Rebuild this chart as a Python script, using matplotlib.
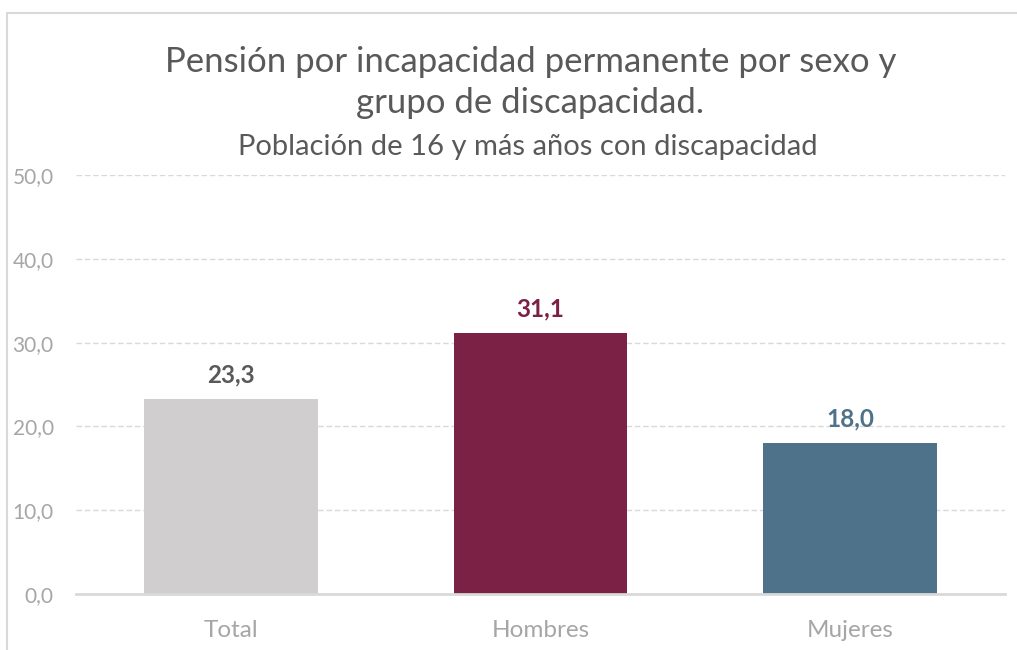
import matplotlib
matplotlib.use("Agg")
import matplotlib.pyplot as plt
from matplotlib.patches import Rectangle

categories = ["Total", "Hombres", "Mujeres"]
values = [23.3, 31.1, 18.0]
bar_colors = ["#D0CECF", "#7B2145", "#4E7289"]
label_colors = ["#595959", "#7B2145", "#4E7289"]
yticks = [0, 10, 20, 30, 40, 50]

FONT = ["Lato", "DejaVu Sans"]
plt.rcParams["font.family"] = FONT

fig = plt.figure(figsize=(10.17, 6.5), dpi=100)
fig.patch.set_facecolor("white")
# outer chart border
fig.patches.append(Rectangle((7/1017, -0.05), 1.2, 1 - 13/650 + 0.05,
                             transform=fig.transFigure, fill=False,
                             edgecolor="#D9D9D9", linewidth=1.5))

ax = fig.add_axes([76/1017, 1 - 594/650, (1005 - 76)/1017, (594 - 175)/650])
x = list(range(len(categories)))
bars = ax.bar(x, values, width=0.56, color=bar_colors, zorder=3)
ax.set_xlim(-0.5, len(categories) - 0.5)
ax.set_ylim(0, 50)
ax.set_yticks(yticks)
ax.set_yticklabels([f"{v:.1f}".replace(".", ",") for v in yticks])
ax.set_xticks(x)
ax.set_xticklabels(categories)
ax.tick_params(axis="both", length=0, colors="#A6A6A6")
ax.tick_params(axis="y", pad=16, labelsize=15)
ax.tick_params(axis="x", pad=19, labelsize=17.5)
ax.grid(axis="y", color="#D9D9D9", linestyle=(0, (4, 2)), linewidth=1, zorder=0)
for s in ["top", "right", "left"]:
    ax.spines[s].set_visible(False)
ax.spines["bottom"].set_color("#D9D9D9")
ax.spines["bottom"].set_linewidth(2)
ax.spines["bottom"].set_zorder(4)

for xi, v, c in zip(x, values, label_colors):
    ax.annotate(f"{v:.1f}".replace(".", ","), (xi, v), xytext=(0, 9),
                textcoords="offset points", ha="center", va="bottom",
                fontsize=17.5, fontweight="bold", color=c)

fig.text(0.5215, 1 - 62/650, "Pensión por incapacidad permanente por sexo y",
         ha="center", va="center", fontsize=25, color="#595959")
fig.text(0.5215, 1 - 103/650, "grupo de discapacidad.",
         ha="center", va="center", fontsize=25, color="#595959")
fig.text(0.5185, 1 - 147/650, "Población de 16 y más años con discapacidad",
         ha="center", va="center", fontsize=21, color="#595959")

fig.savefig("out.png", dpi=100, facecolor="white")
